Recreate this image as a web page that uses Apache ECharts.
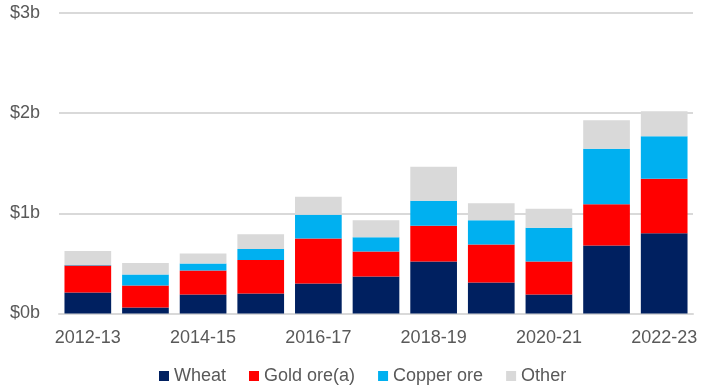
<!DOCTYPE html>
<html>
<head>
<meta charset="utf-8">
<script src="https://cdn.jsdelivr.net/npm/echarts@6/dist/echarts.min.js"></script>
<style>
  html, body { margin: 0; padding: 0; background: #ffffff; }
  #chart { width: 701px; height: 387px; }
</style>
</head>
<body>
<div id="chart"></div>
<script>
// Export values by financial year, $ billion
const years = ['2012-13', '2013-14', '2014-15', '2015-16', '2016-17', '2017-18',
               '2018-19', '2019-20', '2020-21', '2021-22', '2022-23'];
const wheat  = [0.21, 0.06, 0.19, 0.20, 0.30, 0.37, 0.52, 0.31, 0.19, 0.68, 0.80];
const gold   = [0.27, 0.22, 0.24, 0.335, 0.45, 0.25, 0.355, 0.38, 0.33, 0.41, 0.545];
const copper = [0.005, 0.11, 0.07, 0.11, 0.235, 0.14, 0.25, 0.24, 0.335, 0.555, 0.425];
const other  = [0.14, 0.113, 0.10, 0.145, 0.18, 0.17, 0.34, 0.17, 0.19, 0.285, 0.25];
const yTicks = [0, 1, 2, 3];

const font = 'Liberation Sans, Arial, sans-serif';
const textColor = '#595959';

const seriesDefs = [
  { name: 'Wheat', data: wheat, color: '#002060' },
  { name: 'Gold ore(a)', data: gold, color: '#ff0000' },
  { name: 'Copper ore', data: copper, color: '#00b0f0' },
  { name: 'Other', data: other, color: '#d9d9d9' }
];

const chart = echarts.init(document.getElementById('chart'), null, { renderer: 'canvas' });
chart.setOption({
  animation: false,
  backgroundColor: '#ffffff',
  textStyle: { fontFamily: font },
  grid: { left: 59, right: 8, top: 13, bottom: 73.5, containLabel: false },
  legend: {
    top: 362,
    left: 154,
    itemWidth: 10,
    itemHeight: 10,
    itemGap: 23,
    icon: 'rect',
    textStyle: { fontSize: 18, color: textColor, fontFamily: font },
    data: seriesDefs.map(s => s.name)
  },
  xAxis: {
    type: 'category',
    data: years,
    axisLine: { show: true, lineStyle: { color: '#d9d9d9', width: 2 } },
    axisTick: { show: false },
    axisLabel: { interval: 1, fontSize: 18, color: textColor, margin: 16, fontFamily: font }
  },
  yAxis: {
    type: 'value',
    min: yTicks[0],
    max: yTicks[yTicks.length - 1],
    interval: 1,
    axisLine: { show: false },
    axisTick: { show: false },
    splitLine: { lineStyle: { color: '#d9d9d9', width: 2 } },
    axisLabel: {
      fontSize: 18, color: textColor, margin: 19, fontFamily: font,
      formatter: v => '$' + v + 'b'
    }
  },
  series: seriesDefs.map(s => ({
    name: s.name,
    type: 'bar',
    stack: 'total',
    data: s.data,
    barCategoryGap: '19%',
    itemStyle: { color: s.color }
  }))
});
</script>
</body>
</html>
